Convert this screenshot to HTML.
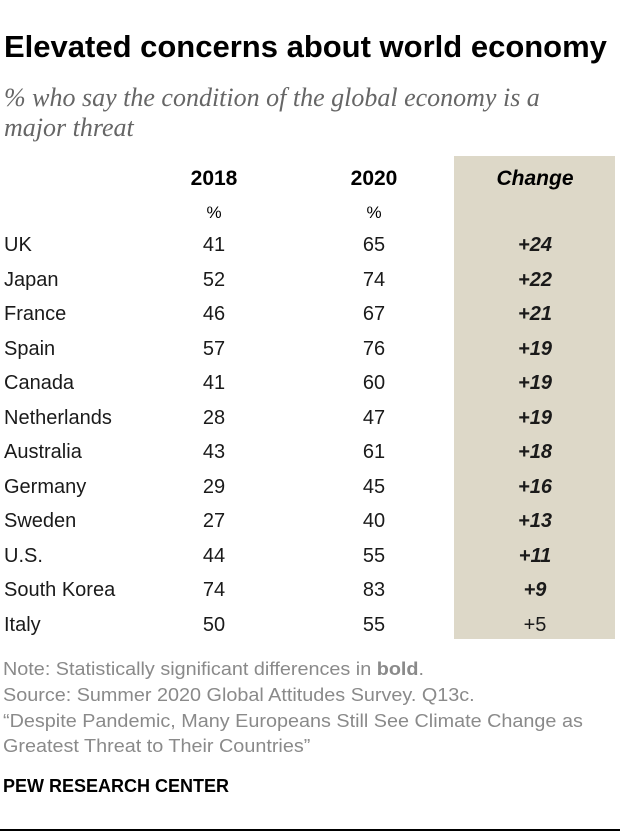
<!DOCTYPE html>
<html><head><meta charset="utf-8"><style>
body{margin:0;width:620px;height:838px;background:#fff;position:relative;overflow:hidden;font-family:"Liberation Sans",sans-serif;}
.a{position:absolute;white-space:nowrap;}
.sq{display:inline-block;transform-origin:0 0;}
.c{transform:translateX(-50%);text-align:center;}
.row{font-size:20px;color:#1a1a1a;}
</style></head><body>
<div class="a" style="left:4px;top:29px;font-size:31px;font-weight:bold;color:#000;">Elevated concerns about world economy</div>
<div class="a" style="left:4px;top:83px;font-family:'Liberation Serif',serif;font-style:italic;font-size:26px;color:#666;line-height:30px;">% who say the condition of the global economy is a<br>major threat</div>
<div class="a" style="left:454px;top:156px;width:161px;height:483px;background:#ddd8c8;"></div>
<div class="a c" style="left:214px;top:167px;font-size:21px;font-weight:bold;">2018</div>
<div class="a c" style="left:374px;top:167px;font-size:21px;font-weight:bold;">2020</div>
<div class="a c" style="left:535px;top:167px;font-size:21px;font-weight:bold;font-style:italic;">Change</div>
<div class="a c" style="left:214px;top:203px;font-size:17px;">%</div>
<div class="a c" style="left:374px;top:203px;font-size:17px;">%</div>
<div id="rows"></div>
<div class="a" style="left:3px;top:656px;font-size:18.5px;color:#8a8a8a;line-height:25.8px;"><span class="sq" style="transform:scaleX(1.07)">Note: Statistically significant differences in <b>bold</b>.<br>Source: Summer 2020 Global Attitudes Survey. Q13c.<br>“Despite Pandemic, Many Europeans Still See Climate Change as<br>Greatest Threat to Their Countries”</span></div>
<div class="a" style="left:3px;top:776px;font-size:18px;font-weight:bold;color:#000;"><span class="sq" style="transform:scaleX(1.0)">PEW RESEARCH CENTER</span></div>
<div class="a" style="left:0;top:829px;width:620px;height:2px;background:#000;"></div>
<script>
const countries=["UK","Japan","France","Spain","Canada","Netherlands","Australia","Germany","Sweden","U.S.","South Korea","Italy"];
const v2018=[41,52,46,57,41,28,43,29,27,44,74,50];
const v2020=[65,74,67,76,60,47,61,45,40,55,83,55];
const significant=[1,1,1,1,1,1,1,1,1,1,1,0];
const host=document.getElementById('rows');
countries.forEach((c,i)=>{
  const y=234+i*34.5;
  const mk=(txt,x,center,extra,name)=>{
    const d=document.createElement('div');
    d.className='a row'+(center?' c':'');
    d.style.left=x+'px';d.style.top=y+'px';
    if(extra)d.style.cssText+=extra;
    d.textContent=txt;
    
    
    host.appendChild(d);
  };
  mk(c,4,false,'',"country-label");
  mk(String(v2018[i]),214,true,'',"value-2018");
  mk(String(v2020[i]),374,true,'',"value-2020");
  const ch=v2020[i]-v2018[i];
  mk('+'+ch,535,true,significant[i]?'font-weight:bold;font-style:italic;':'',"change-value");
});
</script>
</body></html>
